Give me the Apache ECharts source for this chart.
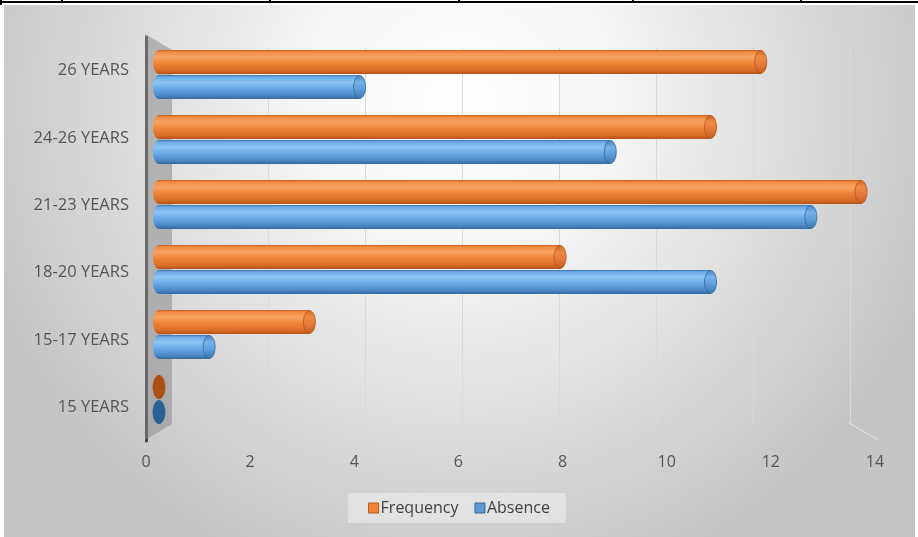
<!DOCTYPE html>
<html>
<head>
<meta charset="utf-8">
<script src="https://cdn.jsdelivr.net/npm/echarts@6/dist/echarts.min.js"></script>
<style>
  html, body { margin: 0; padding: 0; background: #ffffff; }
  #chart { width: 918px; height: 537px; }
</style>
</head>
<body>
<div id="chart"></div>
<script>
// ---- data ----
const categories = ['26 YEARS', '24-26 YEARS', '21-23 YEARS', '18-20 YEARS', '15-17 YEARS', '15 YEARS'];
const frequency = [12, 11, 14, 8, 3, 0];
const absence = [4, 9, 13, 11, 1, 0];
const xTicks = { min: 0, max: 14, interval: 2 };
const seriesNames = ['Frequency', 'Absence'];

const chart = echarts.init(document.getElementById('chart'), null, { renderer: 'canvas' });
const FONT = '"Open Sans", "Noto Sans", sans-serif';

const palettes = [
  { // orange
    body: [[0, '#c45c1a'], [0.08, '#f08c45'], [0.3, '#f9a264'], [0.55, '#ef8438'], [0.85, '#d96c25'], [1, '#b5531a']],
    cap: [[0, '#cf6620'], [0.3, '#ee8a45'], [0.6, '#e5793a'], [1, '#bf5b1c']],
    capStroke: 'rgba(170,80,20,0.7)',
    legend: '#f0853a', legendBorder: '#b85a1c'
  },
  { // blue
    body: [[0, '#3b72ab'], [0.08, '#6aaae6'], [0.3, '#8cc6f6'], [0.55, '#69abe8'], [0.85, '#4a88c6'], [1, '#35699d']],
    cap: [[0, '#4580be'], [0.3, '#74b2ea'], [0.6, '#5e9edb'], [1, '#3a72ab']],
    capStroke: 'rgba(40,95,150,0.7)',
    legend: '#5b9bd5', legendBorder: '#2f6aa3'
  }
];

function grad(stops) {
  return new echarts.graphic.LinearGradient(0, 0, 0, 1, stops.map(s => ({ offset: s[0], color: s[1] })));
}

function makeRender(idx) {
  return function (params, api) {
    const cat = api.value(1);
    const val = api.value(0);
    const p0 = api.coord([0, cat]);
    const p1 = api.coord([val, cat]);
    const h = 24;
    const cy = p0[1] + (idx === 0 ? -12.5 : 12.5);
    const y = cy - h / 2;
    const rx = 6;
    const pal = palettes[idx];
    const zero = val === 0;
    return {
      type: 'group',
      children: [
        { type: 'ellipse', shape: { cx: p0[0], cy: cy, rx: rx, ry: h / 2 }, style: { fill: grad(pal.body) } },
        { type: 'rect', shape: { x: p0[0], y: y, width: Math.max(0, p1[0] - p0[0]), height: h }, style: { fill: grad(pal.body) } },
        { type: 'ellipse', shape: { cx: p1[0], cy: cy, rx: rx, ry: h / 2 - 0.5 },
          style: { fill: zero ? pal.capStroke.replace('0.7', '1') : grad(pal.cap), stroke: pal.capStroke, lineWidth: 1 } }
      ]
    };
  };
}

const option = {
  animation: false,
  textStyle: { fontFamily: FONT },
  graphic: [
    // background panel
    { type: 'rect', z: -10, silent: true, shape: { x: 4, y: 5, width: 911, height: 532 },
      style: { fill: new echarts.graphic.RadialGradient(0.5, 0.18, 0.95, [
        { offset: 0, color: '#ffffff' }, { offset: 0.3, color: '#f6f6f6' }, { offset: 0.7, color: '#d9d9d9' }, { offset: 1, color: '#c4c4c4' }]) } },
    // top frame lines
    { type: 'rect', z: -5, silent: true, shape: { x: 0, y: 1, width: 918, height: 2 }, style: { fill: '#000000' } },
    { type: 'rect', z: -5, silent: true, shape: { x: 0, y: 0, width: 2, height: 5 }, style: { fill: '#000000' } },
    { type: 'rect', z: -5, silent: true, shape: { x: 61, y: 0, width: 2, height: 3 }, style: { fill: '#000000' } },
    { type: 'rect', z: -5, silent: true, shape: { x: 269, y: 0, width: 2, height: 3 }, style: { fill: '#000000' } },
    { type: 'rect', z: -5, silent: true, shape: { x: 458, y: 0, width: 2, height: 3 }, style: { fill: '#000000' } },
    { type: 'rect', z: -5, silent: true, shape: { x: 632, y: 0, width: 2, height: 3 }, style: { fill: '#000000' } },
    { type: 'rect', z: -5, silent: true, shape: { x: 800, y: 0, width: 2, height: 3 }, style: { fill: '#000000' } },
    // side wall
    { type: 'polygon', z: 1, silent: true, shape: { points: [[145, 34], [172, 50], [172, 424], [145, 440]] },
      style: { fill: 'rgba(140,140,140,0.55)' } },
    // floor edge of last gridline
    { type: 'line', z: 1, silent: true, shape: { x1: 849, y1: 423, x2: 878, y2: 440 }, style: { stroke: '#e6e6e6', lineWidth: 1 } }
  ],
  legend: {
    data: seriesNames.map((n, i) => ({ name: n, itemStyle: { color: palettes[i].legend, borderColor: palettes[i].legendBorder, borderWidth: 1 } })),
    icon: 'rect',
    left: 'center',
    top: 493,
    itemWidth: 10,
    itemHeight: 10,
    itemGap: 16,
    padding: [7, 16, 7, 20],
    backgroundColor: 'rgba(240,240,240,0.55)',
    textStyle: { fontFamily: FONT, fontSize: 16, color: '#404040', padding: [0, 0, 0, -3] }
  },
  grid: [
    { left: 159, right: 57, top: 42, height: 390 },   // bars (mid depth)
    { left: 171, right: 68, top: 48, height: 376 },   // back wall gridlines
    { left: 146, right: 43, top: 37, height: 404 }    // front labels
  ],
  xAxis: [
    { gridIndex: 0, type: 'value', min: xTicks.min, max: xTicks.max, interval: xTicks.interval, show: false },
    { gridIndex: 1, type: 'value', min: xTicks.min, max: xTicks.max, interval: xTicks.interval,
      axisLine: { show: false }, axisTick: { show: false }, axisLabel: { show: false },
      splitLine: { show: true, lineStyle: { color: '#d9d9d9', width: 1 } } },
    { gridIndex: 2, type: 'value', min: xTicks.min, max: xTicks.max, interval: xTicks.interval,
      axisLine: { show: false }, axisTick: { show: false }, splitLine: { show: false },
      axisLabel: { margin: 13, fontSize: 16, color: '#555555', fontFamily: FONT } }
  ],
  yAxis: [
    { gridIndex: 0, type: 'category', data: categories, inverse: true, show: false },
    { gridIndex: 1, type: 'category', data: categories, inverse: true, show: false },
    { gridIndex: 2, type: 'category', data: categories, inverse: true, offset: 2,
      axisLine: { show: true, lineStyle: { color: '#3c3c3c', width: 3 } },
      axisTick: { show: false }, splitLine: { show: false },
      axisLabel: { margin: 15, fontSize: 16.5, color: '#555555', fontFamily: FONT } }
  ],
  series: [
    { name: seriesNames[0], type: 'custom', xAxisIndex: 0, yAxisIndex: 0, z: 5,
      itemStyle: { color: palettes[0].legend },
      renderItem: makeRender(0), encode: { x: 0, y: 1 },
      data: frequency.map((v, i) => [v, i]) },
    { name: seriesNames[1], type: 'custom', xAxisIndex: 0, yAxisIndex: 0, z: 5,
      itemStyle: { color: palettes[1].legend },
      renderItem: makeRender(1), encode: { x: 0, y: 1 },
      data: absence.map((v, i) => [v, i]) }
  ]
};
chart.setOption(option);
</script>
</body>
</html>
